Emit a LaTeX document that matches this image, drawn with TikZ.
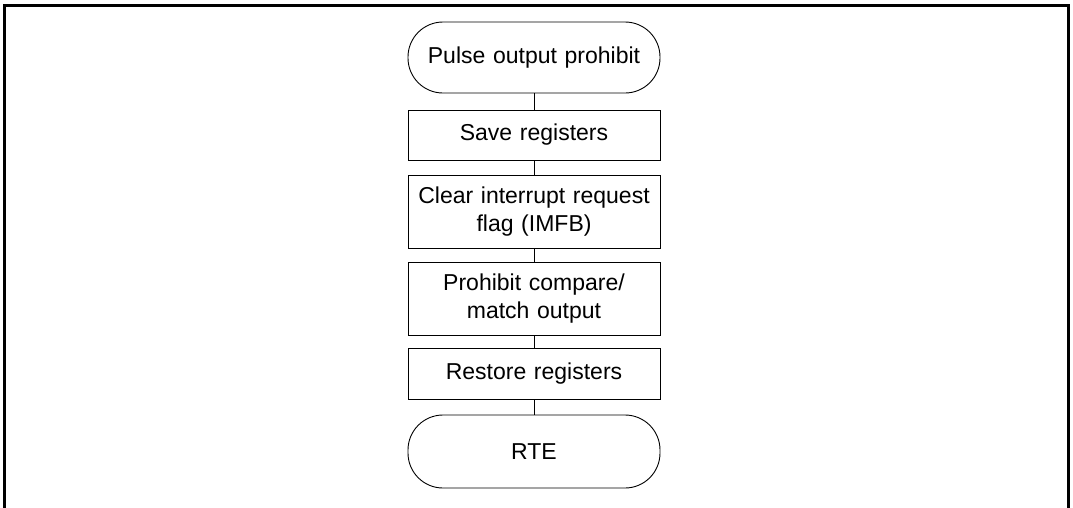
\documentclass[tikz,border=0pt]{standalone}
\usepackage{fontspec}
\setmainfont{Liberation Sans}
\begin{document}
\begin{tikzpicture}[x=1pt,y=-1pt,
  base/.style={draw=black, line width=0.9pt, inner sep=0pt, align=center,
    minimum width=252pt, text width=248pt, font=\fontsize{23}{27.5}\selectfont},
  procbox/.style={base},
  term/.style={base, rounded corners=35pt},
  conn/.style={draw=black, line width=0.9pt}]
\useasboundingbox (0,0) rectangle (1073,507);
\draw[line width=2.7pt] (4.5,520) -- (4.5,5.5) -- (1068.5,5.5) -- (1068.5,520);
\node[term, minimum height=71pt] (start) at (534,57.5) {Pulse output prohibit};
\node[procbox, minimum height=50pt] (save) at (534,135) {Save registers};
\node[procbox, minimum height=73pt] (clear) at (534,211.5) {Clear interrupt request\\flag (IMFB)};
\node[procbox, minimum height=73pt] (prohib) at (534,298.5) {Prohibit compare/\\match output};
\node[procbox, minimum height=51pt] (restore) at (534,373.5) {Restore registers};
\node[term, minimum height=73pt] (rte) at (534,451.5) {RTE};
\draw[conn] (start) -- (save);
\draw[conn] (save) -- (clear);
\draw[conn] (clear) -- (prohib);
\draw[conn] (prohib) -- (restore);
\draw[conn] (restore) -- (rte);
\end{tikzpicture}
\end{document}
